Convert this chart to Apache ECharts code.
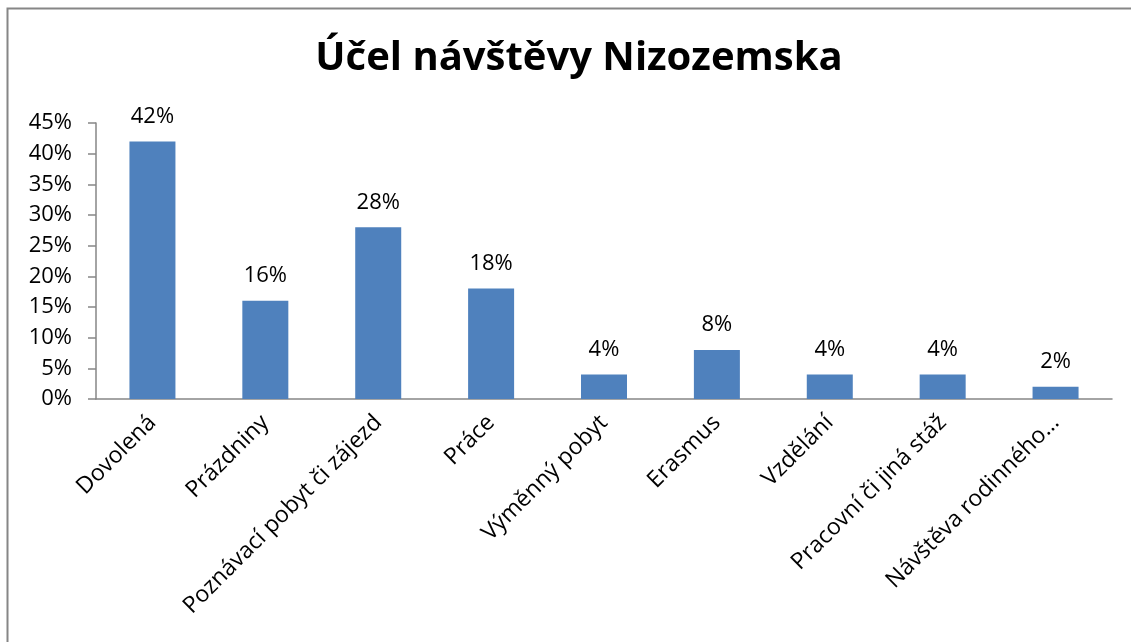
<!DOCTYPE html>
<html>
<head>
<meta charset="utf-8">
<script src="https://cdn.jsdelivr.net/npm/echarts@6/dist/echarts.min.js"></script>
<style>
html, body { margin: 0; padding: 0; background: #fff; }
#chart { width: 1131px; height: 642px; }
</style>
</head>
<body>
<div id="chart"></div>
<script>
var categories = ['Dovolená', 'Prázdniny', 'Poznávací pobyt či zájezd', 'Práce', 'Výměnný pobyt', 'Erasmus', 'Vzdělání', 'Pracovní či jiná stáž', 'Návštěva rodinného…'];
var values = [42, 16, 28, 18, 4, 8, 4, 4, 2];
var yTicks = [0, 5, 10, 15, 20, 25, 30, 35, 40, 45];

var chart = echarts.init(document.getElementById('chart'));
var font = '"Open Sans", "DejaVu Sans", sans-serif';

var option = {
    animation: false,
    backgroundColor: '#fff',
    title: {
        text: 'Účel návštěvy Nizozemska',
        left: 574,
        textAlign: 'center',
        top: 34,
        textStyle: { fontFamily: font, fontSize: 40, fontWeight: 'bold', color: '#000' }
    },
    // rám grafu (jen levá a horní hrana jsou vidět)
    graphic: [{
        type: 'polyline',
        shape: { points: [[7.5, 642], [7.5, 8.5], [1131, 8.5]] },
        style: { fill: null, stroke: '#868686', lineWidth: 2 }
    }],
    grid: { left: 96, right: 19, top: 123, bottom: 243 },
    xAxis: {
        type: 'category',
        data: categories,
        axisLine: { lineStyle: { color: '#868686', width: 1.5 } },
        axisTick: { length: 7, lineStyle: { color: '#868686', width: 1.5 } },
        axisLabel: {
            rotate: 45,
            interval: 0,
            margin: 20,
            fontFamily: font,
            fontSize: 23,
            color: '#000'
        }
    },
    yAxis: {
        type: 'value',
        min: yTicks[0],
        max: yTicks[yTicks.length - 1],
        interval: 5,
        splitLine: { show: false },
        axisLine: { show: true, lineStyle: { color: '#868686', width: 1.5 } },
        axisTick: { show: true, length: 8, lineStyle: { color: '#868686', width: 1.5 } },
        axisLabel: {
            formatter: '{value}%',
            margin: 24,
            fontFamily: font,
            fontSize: 22,
            color: '#000'
        }
    },
    series: [{
        type: 'bar',
        data: values,
        barWidth: 46,
        itemStyle: { color: '#4F81BD' },
        label: {
            show: true,
            position: 'top',
            distance: 14,
            formatter: '{c}%',
            fontFamily: font,
            fontSize: 22,
            color: '#000'
        }
    }]
};

chart.setOption(option);
</script>
</body>
</html>
